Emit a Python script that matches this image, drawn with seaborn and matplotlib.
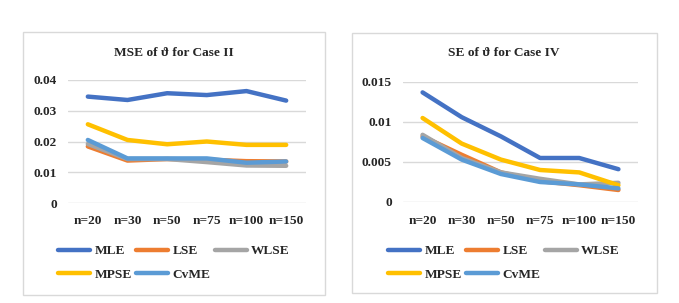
import numpy as np
import pandas as pd
import matplotlib
matplotlib.use("Agg")
import matplotlib.pyplot as plt
import seaborn as sns
from matplotlib.patches import Rectangle

sizes = ["n=20", "n=30", "n=50", "n=75", "n=100", "n=150"]
methods = ["MLE", "LSE", "WLSE", "MPSE", "CvME"]
colors = ["#4472C4", "#ED7D31", "#A5A5A5", "#FFC000", "#5B9BD5"]

# MSE of theta, case II
mse_mle = [0.0346, 0.0335, 0.0357, 0.0351, 0.0364, 0.0333]
mse_lse = [0.0184, 0.0138, 0.0143, 0.0141, 0.0136, 0.0135]
mse_wlse = [0.0192, 0.0143, 0.0143, 0.0133, 0.0122, 0.0121]
mse_mpse = [0.0256, 0.0205, 0.0191, 0.0200, 0.0189, 0.0189]
mse_cvme = [0.0205, 0.0145, 0.0145, 0.0145, 0.0131, 0.0135]

# SE of theta, case IV
se_mle = [0.0137, 0.0106, 0.0082, 0.0055, 0.0055, 0.0041]
se_lse = [0.0082, 0.0059, 0.0037, 0.0026, 0.0021, 0.0015]
se_wlse = [0.0084, 0.0055, 0.0037, 0.0029, 0.0022, 0.0024]
se_mpse = [0.0105, 0.0073, 0.0053, 0.0040, 0.0037, 0.0021]
se_cvme = [0.0080, 0.0053, 0.0035, 0.0025, 0.0022, 0.0017]


def long_form(series):
    rows = []
    for m, vals in zip(methods, series):
        for s, v in zip(sizes, vals):
            rows.append({"n": s, "method": m, "value": v})
    return pd.DataFrame(rows)


df_mse = long_form([mse_mle, mse_lse, mse_wlse, mse_mpse, mse_cvme])
df_se = long_form([se_mle, se_lse, se_wlse, se_mpse, se_cvme])

sns.set_style("white")
plt.rcParams["font.family"] = ["Liberation Serif", "DejaVu Serif"]
plt.rcParams["font.weight"] = "bold"

fig = plt.figure(figsize=(6.79, 3.03), dpi=100)
W, H = 679, 303


def fx(px):
    return px / W


def fy(py):
    return 1 - py / H


# panel frames
for x0, y0, x1, y1 in [(23, 32, 325, 295), (352, 33, 657, 293)]:
    fig.add_artist(Rectangle((fx(x0), fy(y1)), fx(x1) - fx(x0), fy(y0) - fy(y1),
                             transform=fig.transFigure, fill=False,
                             edgecolor="#d9d9d9", linewidth=1))

ax1 = fig.add_axes([fx(68), fy(203), fx(306) - fx(68), fy(80) - fy(203)])
ax2 = fig.add_axes([fx(403), fy(202), fx(638) - fx(403), fy(82) - fy(202)])

panels = [
    (ax1, df_mse, "MSE of ϑ for Case II", [0, 0.01, 0.02, 0.03, 0.04],
     ["0", "0.01", "0.02", "0.03", "0.04"], 0.04, 53, 174),
    (ax2, df_se, "SE of ϑ for Case IV", [0, 0.005, 0.01, 0.015],
     ["0", "0.005", "0.01", "0.015"], 0.015, 53, 504),
]

# legend fills column by column, so reorder to read row by row
leg_order = [0, 3, 1, 4, 2]

for ax, df, title, yt, ytl, ytop, ty, cx in panels:
    sns.lineplot(data=df, x="n", y="value", hue="method", palette=colors,
                 hue_order=methods, sort=False, linewidth=3.2, ax=ax,
                 legend=False)
    ax.set_xlim(-0.5, 5.5)
    ax.set_ylim(0, ytop)
    ax.set_yticks(yt)
    ax.set_yticklabels(ytl)
    ax.yaxis.grid(True, color="#d9d9d9", linewidth=1)
    ax.set_axisbelow(True)
    for sp in ax.spines.values():
        sp.set_visible(False)
    ax.tick_params(length=0, labelsize=9.6, pad=8)
    ax.tick_params(axis="x", pad=9)
    for lab in ax.get_xticklabels() + ax.get_yticklabels():
        lab.set_fontweight("bold")
    ax.set_xlabel("")
    ax.set_ylabel("")
    fig.text(fx(cx), fy(ty), title, ha="center", va="center",
             fontsize=9.6, fontweight="bold")

    handles = [plt.Line2D([], [], color=colors[i], linewidth=3.2) for i in leg_order]
    labels = [methods[i] for i in leg_order]
    fig.legend(handles, labels, loc="upper center",
               bbox_to_anchor=(fx(cx), fy(233)), ncol=3, frameon=False,
               prop={"size": 9.6, "weight": "bold"}, handlelength=2.4,
               columnspacing=0.35, handletextpad=0.3, labelspacing=0.85)

fig.savefig("out.png", dpi=100)
